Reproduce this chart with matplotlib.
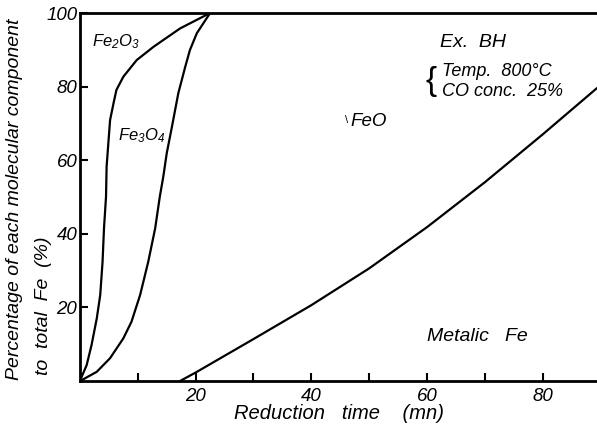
import numpy as np
import matplotlib.pyplot as plt

# boundary curves (time in mn, percentage)
fe2o3_t = [0, 0.3, 1.15, 2.0, 2.9, 3.5, 3.9, 4.15, 4.5, 4.6, 4.9, 5.2, 5.8, 6.3,
           7.5, 9.8, 12.7, 17.3, 22.5]
fe2o3_p = [0, 1.2, 4.3, 9.8, 17.0, 23.4, 32.4, 41.5, 50.1, 58.2, 64.6, 70.9, 75.5,
           79.1, 82.7, 87.2, 90.8, 95.8, 100]

fe3o4_t = [0, 0.6, 2.9, 5.2, 7.5, 8.9, 10.4, 11.8, 13.0, 13.8, 14.4, 15.0, 15.9,
           17.0, 18.2, 19.0, 20.2, 22.5]
fe3o4_p = [0, 0.5, 2.5, 6.2, 11.6, 16.1, 23.4, 32.4, 41.5, 50.1, 55.5, 61.9, 69.1,
           78.2, 85.4, 89.9, 94.5, 100]

feo_t = [17.3, 20, 30, 40, 50, 60, 70, 80, 89.4]
feo_p = [0, 2.3, 11.4, 20.6, 30.6, 41.8, 54.0, 67.0, 79.6]

x_major = [20, 40, 60, 80]
x_minor = [10, 30, 50, 70]
y_major = [20, 40, 60, 80, 100]

plt.rcParams['font.family'] = ['Liberation Sans', 'DejaVu Sans']
plt.rcParams['font.style'] = 'italic'
plt.rcParams['mathtext.fontset'] = 'custom'
plt.rcParams['mathtext.it'] = 'Liberation Sans:italic'
plt.rcParams['mathtext.rm'] = 'Liberation Sans:italic'

fig = plt.figure(figsize=(5.97, 4.34), dpi=100)
ax = fig.add_axes([80 / 597, 53 / 434, 517 / 597, 368 / 434])

for t, p in [(fe2o3_t, fe2o3_p), (fe3o4_t, fe3o4_p), (feo_t, feo_p)]:
    ax.plot(t, p, color='black', lw=1.6, solid_capstyle='round',
            solid_joinstyle='round')

ax.set_xlim(0, 89.4)
ax.set_ylim(0, 100)
ax.spines['right'].set_visible(False)
for s in ['left', 'bottom', 'top']:
    ax.spines[s].set_linewidth(2)

ax.set_xticks(x_major)
ax.set_xticks(x_minor, minor=True)
ax.set_yticks(y_major)
ax.tick_params(direction='in', length=6, width=1.5, labelsize=13.5, pad=5)
ax.tick_params(which='minor', direction='in', length=6, width=1.5)
ax.tick_params(axis='y', pad=2)

ax.set_xlabel('Reduction   time    (mn)', fontsize=14.5, labelpad=-1)

fig.text(15 / 597, 1 - 380 / 434, 'Percentage of each molecular component',
         rotation=90, ha='center', va='bottom', fontsize=14)
fig.text(43 / 597, 1 - 375 / 434, 'to  total  Fe  (%)',
         rotation=90, ha='center', va='bottom', fontsize=14)

ax.text(2.1, 92.1, 'Fe$_2$O$_3$', fontsize=12, ha='left', va='center')
ax.text(6.6, 66.8, 'Fe$_3$O$_4$', fontsize=12, ha='left', va='center')
ax.text(45.9, 71.0, '\\', fontsize=8, ha='left', va='center', style='normal')
ax.text(46.8, 70.4, 'FeO', fontsize=13.5, ha='left', va='center')
ax.text(62.3, 92.0, 'Ex.  BH', fontsize=14, ha='left', va='center')
ax.text(59.8, 81.5, '{', fontsize=24, ha='left', va='center', style='normal',
        fontweight='light')
ax.text(62.6, 84.2, 'Temp.  800°C', fontsize=13, ha='left', va='center')
ax.text(62.6, 78.8, 'CO conc.  25%', fontsize=13, ha='left', va='center')
ax.text(60.0, 12.0, 'Metalic   Fe', fontsize=14, ha='left', va='center')

fig.savefig('out.png', dpi=100)
